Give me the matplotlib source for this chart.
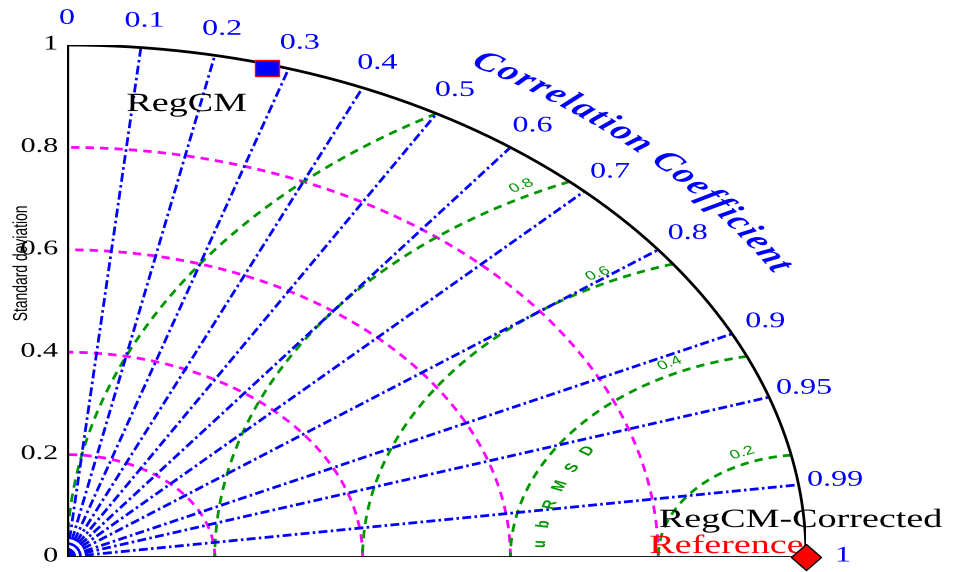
import numpy as np
import matplotlib
matplotlib.use("Agg")
import matplotlib.pyplot as plt
from matplotlib import patheffects
from matplotlib.transforms import Affine2D
from matplotlib.textpath import TextToPath
from matplotlib.font_manager import FontProperties

# normalized standard deviation and correlation of each run
model_names = ["Reference", "RegCM-Corrected", "RegCM"]
model_std = [1.0, 1.0, 0.993]
model_corr = [1.0, 1.0, 0.273]

corr_ticks = [0, 0.1, 0.2, 0.3, 0.4, 0.5, 0.6, 0.7, 0.8, 0.9, 0.95, 0.99, 1]
corr_tick_labels = ["0", "0.1", "0.2", "0.3", "0.4", "0.5", "0.6", "0.7",
                    "0.8", "0.9", "0.95", "0.99", "1"]
std_ticks = [0, 0.2, 0.4, 0.6, 0.8, 1]
std_tick_labels = ["0", "0.2", "0.4", "0.6", "0.8", "1"]
std_circles = [0.2, 0.4, 0.6, 0.8]
rms_circles = [0.2, 0.4, 0.6, 0.8, 1.0]
rms_circle_labels = ["0.2", "0.4", "0.6", "0.8"]

# the diagram is drawn wider than tall, text gets the same horizontal stretch
STRETCH = 739 / 512


class Widen(patheffects.AbstractPathEffect):
    """Stretch a text horizontally about its anchor point."""

    def __init__(self, text, k):
        super().__init__()
        self.text = text
        self.k = k

    def draw_path(self, renderer, gc, tpath, affine, rgbFace=None):
        x0, y0 = self.text.get_transform().transform(self.text.get_unitless_position())
        wide = Affine2D().translate(-x0, -y0).scale(self.k, 1).translate(x0, y0)
        renderer.draw_path(gc, tpath, affine + wide, rgbFace)


fig = plt.figure(figsize=(9.56, 5.72), dpi=100)
ax = fig.add_axes([67 / 956, 15 / 572, 739 / 956, 512 / 572])
ax.set_xlim(0, 1)
ax.set_ylim(0, 1)
ax.axis("off")


def put(x, y, s, **kw):
    t = ax.text(x, y, s, clip_on=False, **kw)
    t.set_path_effects([Widen(t, STRETCH)])
    return t


green = "#009600"
th = np.linspace(0, np.pi / 2, 300)

# std dev circles around the origin
for r in std_circles:
    ax.plot(r * np.cos(th), r * np.sin(th), color="#ff00ff", lw=2.0, ls=(0, (3, 2.2)))

# centered RMS difference circles around the reference point
for r in rms_circles:
    x_end = 1 - r ** 2 / 2
    phi_end = np.arctan2(np.sqrt(1 - x_end ** 2), x_end - 1)
    phi = np.linspace(phi_end, np.pi, 300)
    ax.plot(1 + r * np.cos(phi), r * np.sin(phi), color=green, lw=2.0, ls=(0, (3, 2.2)))

# correlation rays
for c in corr_ticks[1:-1]:
    a = np.arccos(c)
    ax.plot([0, np.cos(a)], [0, np.sin(a)], color="blue", lw=2.0,
            ls=(0, (3.2, 1.2, 0.9, 1.2)))

ax.plot(np.cos(th), np.sin(th), color="black", lw=2.0, solid_capstyle="butt")
ax.plot([0, 0], [0, 1], color="black", lw=2.4)
ax.plot([0, 1], [0, 0], color="black", lw=2.0)

# correlation labels on the outer arc
for c, lab in zip(corr_ticks, corr_tick_labels):
    a = np.arccos(c)
    put(1.05 * np.cos(a), 1.05 * np.sin(a), lab, ha="center", va="center",
        color="blue", family="Liberation Serif", fontsize=16)

# std dev labels on the left
for s, lab in zip(std_ticks, std_tick_labels):
    put(-0.012, s, lab, ha="right", va="center", color="black",
        family="Liberation Serif", fontsize=15)

put(-0.062, 0.574, "Standard deviation", rotation=90, ha="center", va="center",
    color="black", family="Liberation Sans", fontsize=10)

# curved title along the outer arc
title = "Correlation Coefficient"
fp = FontProperties(family="Liberation Serif", weight="bold", style="italic", size=20)
ttp = TextToPath()
widths = []
for ch in title:
    w = ttp.get_text_width_height_descent(ch, fp, ismath=False)[0]
    widths.append(w if w > 0 else 0.25 * 20)
widths = np.array(widths)
centers = np.cumsum(widths) - widths / 2 + 1.5 * np.arange(len(title))
angles = np.interp(centers, [centers[0], centers[-1]], [np.radians(59.5), np.radians(30.5)])
for ch, a in zip(title, angles):
    put(1.105 * np.cos(a), 1.105 * np.sin(a), ch, rotation=np.degrees(a) - 90,
        rotation_mode="anchor", ha="center", va="baseline", fontproperties=fp, color="blue")

# RMS circle labels
for r, lab, phi in zip(rms_circles, rms_circle_labels, [113, 116, 117, 118]):
    p = np.radians(phi)
    put(1 + (r + 0.02) * np.cos(p), (r + 0.02) * np.sin(p), lab, rotation=phi - 90,
        rotation_mode="anchor", ha="center", va="center", color=green,
        family="Liberation Sans", fontsize=9)

for ch, phi in zip("ubRMSD", np.linspace(176, 145, 6)):
    p = np.radians(phi)
    put(1 + 0.36 * np.cos(p), 0.36 * np.sin(p), ch, rotation=phi - 90,
        rotation_mode="anchor", ha="center", va="center", color=green,
        family="Liberation Sans", weight="bold", fontsize=9)

# model points
xs = [s * c for s, c in zip(model_std, model_corr)]
ys = [s * np.sin(np.arccos(c)) for s, c in zip(model_std, model_corr)]
rect = [(-1.5, -1), (1.5, -1), (1.5, 1), (-1.5, 1), (-1.5, -1)]
diamond = [(0, 1), (1.15, 0), (0, -1), (-1.15, 0), (0, 1)]

ax.plot(xs[1], ys[1], marker=rect, ms=6, mfc="blue", mec="red", mew=1,
        ls="none", clip_on=False, zorder=5)
ax.plot(xs[2], ys[2], marker=rect, ms=16.6, mfc="blue", mec="red", mew=1,
        ls="none", clip_on=False, zorder=5)
ax.plot(xs[0], ys[0], marker=diamond, ms=21.6, mfc="red", mec="black", mew=1,
        ls="none", clip_on=False, zorder=6)

label_xy = [(0.8924, 0.0078), (0.993, 0.0586), (0.162, 0.871)]
label_colors = ["red", "black", "black"]
for name, (x, y), col in zip(model_names, label_xy, label_colors):
    put(x, y, name, ha="center", va="baseline", color=col,
        family="Liberation Serif", fontsize=19)

fig.savefig("out.png", dpi=100)
